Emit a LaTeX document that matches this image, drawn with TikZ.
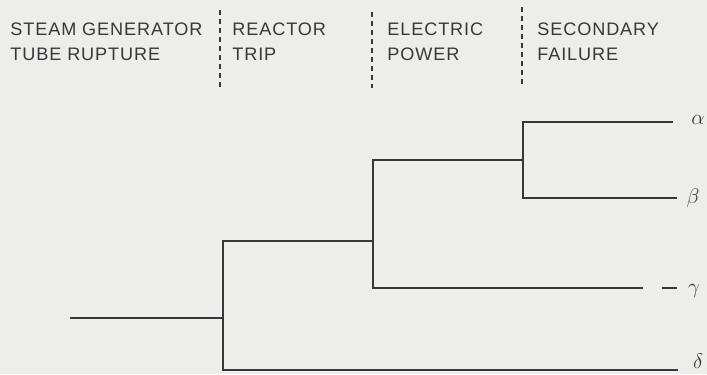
\documentclass[tikz,border=0pt]{standalone}
\usepackage{fontspec}
\setmainfont[LetterSpace=5]{Liberation Sans}
\usepackage{tikz}
\usetikzlibrary{positioning}

\definecolor{paper}{HTML}{EDEDEB}
\definecolor{ink}{HTML}{383838}

\begin{document}
\begin{tikzpicture}[x=0.2mm, y=-0.2mm,
  head/.style={anchor=north west, align=left, inner sep=0pt, text=ink,
               font=\fontsize{10.3}{14.2}\selectfont},
  outc/.style={inner sep=0pt, text=ink, font=\large},
  branch/.style={draw=ink, line width=0.8pt},
  sep/.style={draw=ink, line width=0.6pt, dash pattern=on 1mm off 0.8mm}
]
\fill[paper] (0,0) rectangle (707,374);
\useasboundingbox (0,0) rectangle (707,374);
\node[head] (sgtr) at (10,23) {STEAM GENERATOR\\TUBE RUPTURE};
\node[head] (trip) at (232,23) {REACTOR\\TRIP};
\node[head] (power) at (387,23) {ELECTRIC\\POWER};
\node[head] (secf) at (537,23) {SECONDARY\\FAILURE};
\draw[sep] (220,10) -- (220,90);
\draw[sep] (372,12) -- (372,88);
\draw[sep] (522,7) -- (522,87);
\coordinate (init) at (70,318);
\coordinate (j1) at (223,318);
\coordinate (j2) at (373,241);
\coordinate (j3) at (523,160);
\coordinate (aend) at (673,122);
\coordinate (bend) at (677,198);
\coordinate (gend) at (643,288);
\coordinate (gcut) at (662,288);
\coordinate (gtip) at (677,288);
\coordinate (dend) at (678,370);
\draw[branch] (init) -- (j1);
\draw[branch] (j1) |- (j2);
\draw[branch] (j1) |- (dend);
\draw[branch] (j2) |- (j3);
\draw[branch] (j2) |- (gend);
\draw[branch] (gcut) -- (gtip);
\draw[branch] (j3) |- (aend);
\draw[branch] (j3) |- (bend);
\node[outc] (alpha) at (698,120) {$\alpha$};
\node[outc] (beta) at (693,198) {$\beta$};
\node[outc] (gamma) at (694,291) {$\gamma$};
\node[outc] (delta) at (698,361) {$\delta$};
\end{tikzpicture}
\end{document}
